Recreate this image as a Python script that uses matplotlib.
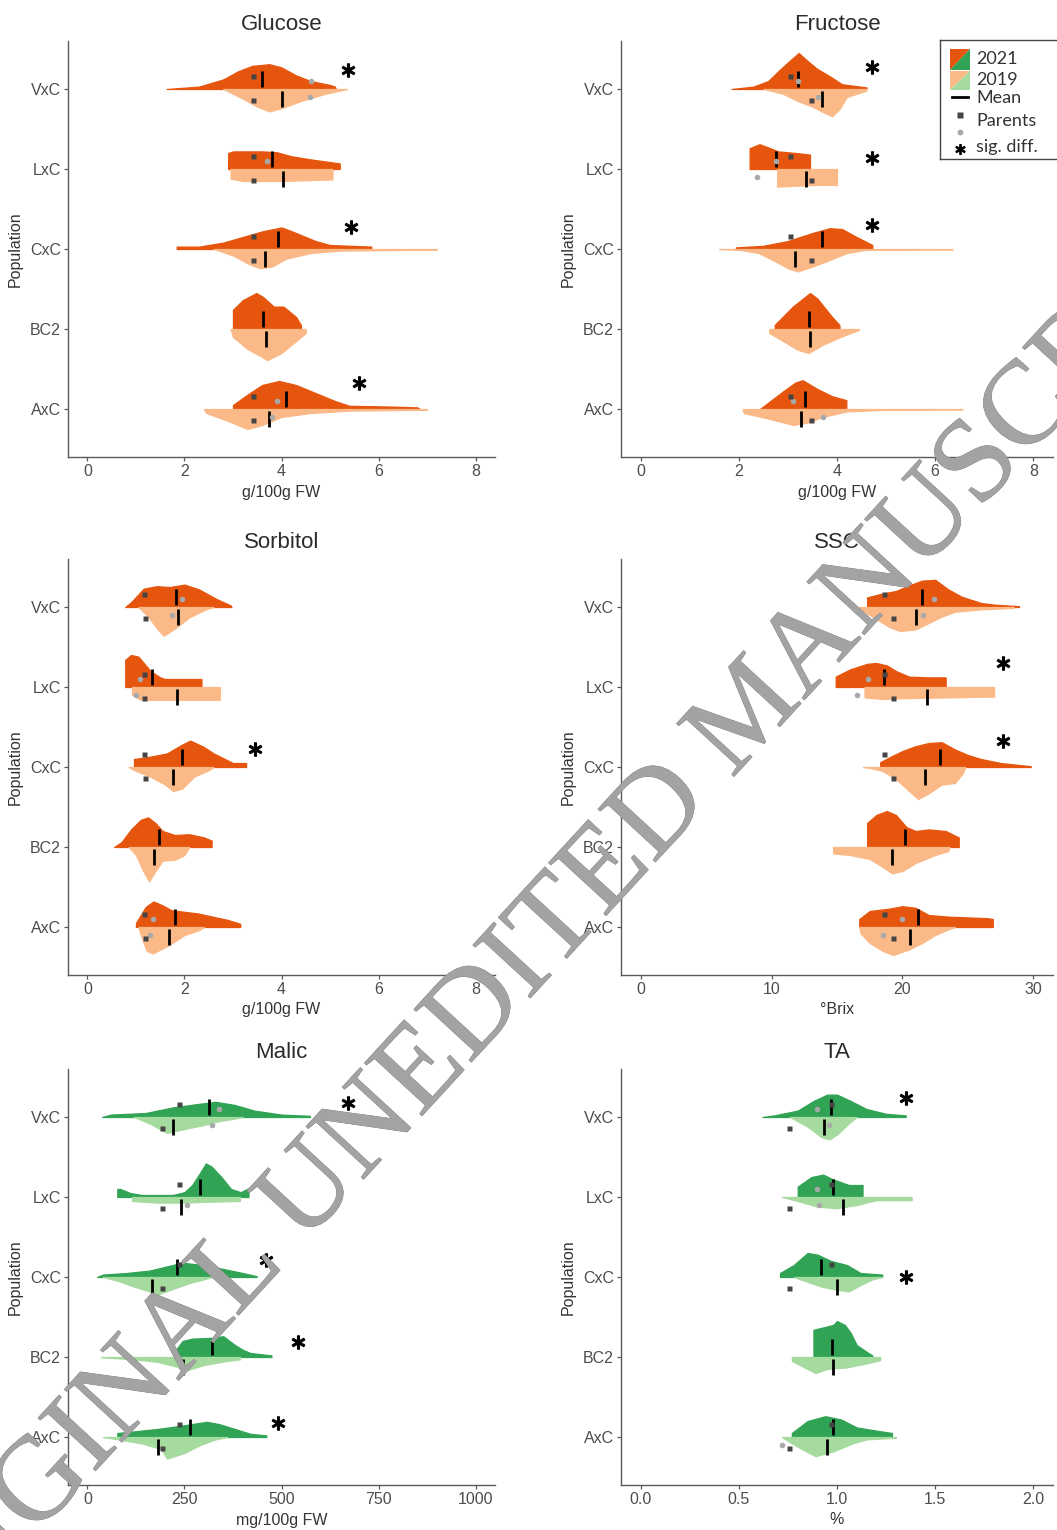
import matplotlib
matplotlib.use("Agg")
import matplotlib.pyplot as plt
from matplotlib import patheffects
from matplotlib.patches import Polygon

# ---------------------------------------------------------------- data
POPS = ["VxC", "LxC", "CxC", "BC2", "AxC"]

# half-violin outlines: (value, half-width in category units)
GLU_2021 = {
    "VxC": [(1.63, 0), (2.3, 0.03), (2.8, 0.12), (3.1, 0.22), (3.4, 0.29), (3.75, 0.31), (4.0, 0.27),
            (4.3, 0.17), (4.6, 0.1), (5.0, 0.05), (5.1, 0.03), (5.12, 0)],
    "LxC": [(2.9, 0), (2.9, 0.2), (3.0, 0.22), (3.6, 0.22), (3.9, 0.21), (4.2, 0.16), (4.6, 0.12),
            (5.2, 0.07), (5.2, 0)],
    "CxC": [(1.84, 0), (1.84, 0.03), (2.3, 0.03), (2.8, 0.08), (3.2, 0.15), (3.6, 0.22), (4.0, 0.27),
            (4.3, 0.2), (4.7, 0.1), (5.0, 0.05), (5.85, 0.03), (5.85, 0)],
    "BC2": [(3.0, 0), (3.0, 0.24), (3.2, 0.36), (3.48, 0.45), (3.62, 0.4), (3.84, 0.28), (4.04, 0.28),
            (4.3, 0.15), (4.4, 0.05), (4.4, 0)],
    "AxC": [(3.0, 0), (3.0, 0.05), (3.3, 0.18), (3.6, 0.3), (3.95, 0.35), (4.3, 0.3), (4.7, 0.2),
            (5.1, 0.1), (5.4, 0.04), (6.3, 0.03), (6.8, 0.02), (6.85, 0)],
}
GLU_2019 = {
    "VxC": [(2.8, 0), (3.2, 0.12), (3.5, 0.22), (3.75, 0.28), (4.0, 0.24), (4.4, 0.15), (4.9, 0.06), (5.35, 0)],
    "LxC": [(2.95, 0), (2.95, 0.12), (3.2, 0.15), (4.0, 0.15), (5.05, 0.13), (5.05, 0)],
    "CxC": [(2.6, 0), (3.0, 0.08), (3.3, 0.18), (3.55, 0.24), (3.8, 0.22), (4.1, 0.12), (4.6, 0.05),
            (5.2, 0.02), (7.2, 0.008), (7.2, 0)],
    "BC2": [(2.95, 0), (3.0, 0.1), (3.3, 0.25), (3.6, 0.35), (3.7, 0.39), (4.0, 0.3), (4.3, 0.15),
            (4.5, 0.05), (4.5, 0)],
    "AxC": [(2.4, 0), (2.45, 0.05), (2.9, 0.15), (3.3, 0.25), (3.6, 0.2), (4.0, 0.1), (4.6, 0.05),
            (5.4, 0.02), (7.0, 0.01), (7.0, 0)],
}
GLU_MEAN_2021 = [3.60, 3.81, 3.92, 3.62, 4.10]
GLU_MEAN_2019 = [4.02, 4.03, 3.67, 3.69, 3.74]
GLU_PAR_2021 = [(3.42, 4.60), (3.42, 3.70), (3.42, None), (None, None), (3.42, 3.90)]
GLU_PAR_2019 = [(3.41, 4.58), (3.41, None), (3.41, None), (None, None), (3.41, 3.80)]
GLU_SIG = [(5.37, 0.24), None, (5.44, 0.28), None, (5.60, 0.33)]

FRU_2021 = {
    "VxC": [(1.85, 0), (2.3, 0.03), (2.6, 0.1), (2.85, 0.25), (3.05, 0.36), (3.22, 0.45), (3.4, 0.35),
            (3.6, 0.25), (3.85, 0.16), (4.1, 0.06), (4.6, 0.02), (4.6, 0)],
    "LxC": [(2.22, 0), (2.22, 0.26), (2.42, 0.31), (2.6, 0.27), (2.8, 0.22), (3.17, 0.2), (3.45, 0.18), (3.45, 0)],
    "CxC": [(1.94, 0), (1.94, 0.02), (2.5, 0.04), (3.0, 0.1), (3.5, 0.2), (3.85, 0.26), (4.1, 0.25),
            (4.4, 0.15), (4.72, 0.05), (4.72, 0)],
    "BC2": [(2.73, 0), (2.73, 0.05), (3.1, 0.28), (3.45, 0.45), (3.6, 0.38), (3.9, 0.15), (4.05, 0.05), (4.05, 0)],
    "AxC": [(2.43, 0), (2.6, 0.08), (2.9, 0.22), (3.15, 0.33), (3.3, 0.36), (3.6, 0.25), (3.9, 0.16),
            (4.19, 0.11), (4.19, 0)],
}
FRU_2019 = {
    "VxC": [(2.5, 0), (2.9, 0.06), (3.2, 0.15), (3.5, 0.22), (3.75, 0.3), (3.9, 0.34), (4.05, 0.25),
            (4.2, 0.1), (4.6, 0.02), (4.6, 0)],
    "LxC": [(2.78, 0), (2.78, 0.22), (3.5, 0.2), (4.0, 0.2), (4.0, 0)],
    "CxC": [(1.6, 0), (2.0, 0.01), (2.4, 0.05), (2.7, 0.14), (3.0, 0.24), (3.2, 0.28), (3.5, 0.22),
            (3.8, 0.15), (4.2, 0.05), (4.6, 0.01), (6.35, 0.006), (6.35, 0)],
    "BC2": [(2.62, 0), (2.62, 0.05), (2.9, 0.15), (3.2, 0.26), (3.42, 0.3), (3.7, 0.2), (4.07, 0.1),
            (4.45, 0.01), (4.45, 0)],
    "AxC": [(2.08, 0), (2.1, 0.05), (2.6, 0.12), (3.11, 0.2), (3.4, 0.17), (3.7, 0.1), (4.2, 0.03),
            (5.0, 0.01), (6.55, 0.006), (6.55, 0)],
}
FRU_MEAN_2021 = [3.21, 2.75, 3.69, 3.43, 3.35]
FRU_MEAN_2019 = [3.69, 3.36, 3.14, 3.45, 3.26]
FRU_PAR_2021 = [(3.05, 3.21), (3.05, 2.76), (3.05, None), (None, None), (3.05, 3.11)]
FRU_PAR_2019 = [(3.48, 3.62), (3.48, 2.37), (3.48, None), (None, None), (3.48, 3.72)]
FRU_SIG = [(4.72, 0.28), (4.72, 0.14), (4.72, 0.30), None, None]

SOR_2021 = {
    "VxC": [(0.78, 0), (0.9, 0.06), (1.16, 0.23), (1.43, 0.26), (1.7, 0.25), (2.0, 0.28), (2.3, 0.22),
            (2.66, 0.1), (2.95, 0.02), (2.97, 0)],
    "LxC": [(0.78, 0), (0.78, 0.34), (0.9, 0.4), (1.05, 0.38), (1.3, 0.2), (1.5, 0.12), (1.6, 0.1),
            (2.35, 0.1), (2.35, 0)],
    "CxC": [(0.96, 0), (0.96, 0.1), (1.3, 0.13), (1.64, 0.17), (1.95, 0.28), (2.12, 0.33), (2.4, 0.25),
            (2.6, 0.17), (3.0, 0.05), (3.27, 0.05), (3.27, 0)],
    "BC2": [(0.55, 0), (0.7, 0.06), (0.9, 0.22), (1.1, 0.34), (1.25, 0.37), (1.4, 0.3), (1.55, 0.2),
            (1.8, 0.15), (2.1, 0.16), (2.4, 0.12), (2.56, 0.08), (2.56, 0)],
    "AxC": [(1.0, 0), (1.0, 0.05), (1.2, 0.25), (1.36, 0.32), (1.55, 0.27), (1.73, 0.21), (2.27, 0.17),
            (2.88, 0.09), (3.15, 0.04), (3.15, 0)],
}
SOR_2019 = {
    "VxC": [(1.05, 0), (1.25, 0.12), (1.45, 0.28), (1.57, 0.36), (1.8, 0.27), (2.1, 0.13), (2.4, 0.04), (2.6, 0)],
    "LxC": [(0.92, 0), (0.92, 0.1), (1.1, 0.16), (2.73, 0.16), (2.73, 0)],
    "CxC": [(0.85, 0), (1.0, 0.05), (1.3, 0.12), (1.6, 0.22), (1.77, 0.3), (1.95, 0.27), (2.2, 0.12),
            (2.5, 0.04), (2.6, 0)],
    "BC2": [(0.85, 0), (1.0, 0.1), (1.15, 0.3), (1.27, 0.43), (1.4, 0.3), (1.55, 0.17), (1.8, 0.16),
            (2.0, 0.1), (2.1, 0)],
    "AxC": [(1.05, 0), (1.1, 0.1), (1.22, 0.3), (1.35, 0.33), (1.7, 0.22), (2.0, 0.1), (2.3, 0.04), (2.4, 0)],
}
SOR_MEAN_2021 = [1.82, 1.33, 1.94, 1.47, 1.81]
SOR_MEAN_2019 = [1.86, 1.84, 1.76, 1.38, 1.69]
SOR_PAR_2021 = [(1.16, 1.94), (1.16, 1.09), (1.16, None), (None, None), (1.16, 1.36)]
SOR_PAR_2019 = [(1.19, 1.74), (1.17, 1.00), (1.19, None), (None, None), (1.19, 1.30)]
SOR_SIG = [None, None, (3.45, 0.23), None, None]

SSC_2021 = {
    "VxC": [(17.3, 0), (17.3, 0.12), (18.5, 0.17), (19.5, 0.2), (20.5, 0.27), (21.5, 0.33), (22.5, 0.34),
            (23.5, 0.22), (24.5, 0.13), (26.0, 0.05), (27.0, 0.03), (28.9, 0.01), (28.9, 0)],
    "LxC": [(14.9, 0), (14.9, 0.13), (16.0, 0.22), (17.3, 0.29), (18.0, 0.3), (18.8, 0.27), (19.5, 0.2),
            (20.5, 0.13), (22.0, 0.12), (23.3, 0.12), (23.3, 0)],
    "CxC": [(18.3, 0), (18.3, 0.06), (19.0, 0.12), (20.0, 0.2), (21.0, 0.26), (22.0, 0.3), (23.0, 0.31),
            (24.0, 0.22), (25.0, 0.15), (26.0, 0.1), (27.5, 0.05), (29.8, 0.01), (29.8, 0)],
    "BC2": [(17.3, 0), (17.3, 0.3), (18.0, 0.4), (18.8, 0.45), (19.5, 0.4), (20.3, 0.25), (21.0, 0.2),
            (22.0, 0.22), (23.3, 0.2), (24.3, 0.12), (24.3, 0)],
    "AxC": [(16.7, 0), (16.7, 0.1), (17.5, 0.2), (19.0, 0.23), (20.0, 0.26), (21.0, 0.24), (22.0, 0.15),
            (23.5, 0.13), (26.5, 0.11), (26.9, 0.1), (26.9, 0)],
}
SSC_2019 = {
    "VxC": [(16.2, 0), (17.0, 0.05), (18.0, 0.15), (19.0, 0.25), (19.8, 0.3), (21.0, 0.28), (22.0, 0.2),
            (23.0, 0.12), (24.0, 0.06), (26.0, 0.03), (28.5, 0.01), (28.5, 0)],
    "LxC": [(17.1, 0), (17.1, 0.13), (18.5, 0.15), (20.0, 0.14), (27.0, 0.12), (27.0, 0)],
    "CxC": [(17.0, 0), (17.5, 0.01), (18.5, 0.05), (19.5, 0.15), (20.5, 0.3), (21.2, 0.4), (22.0, 0.33),
            (23.0, 0.22), (24.0, 0.2), (24.6, 0.08), (24.8, 0)],
    "BC2": [(14.7, 0), (14.7, 0.08), (16.0, 0.1), (17.5, 0.15), (18.5, 0.25), (19.2, 0.33), (20.0, 0.3),
            (21.0, 0.2), (22.5, 0.1), (23.5, 0.05), (23.6, 0)],
    "AxC": [(16.7, 0), (16.8, 0.08), (17.5, 0.2), (18.5, 0.3), (19.3, 0.35), (20.5, 0.28), (21.5, 0.2),
            (22.5, 0.1), (23.5, 0.03), (24.0, 0)],
}
SSC_MEAN_2021 = [21.5, 18.6, 22.9, 20.2, 21.2]
SSC_MEAN_2019 = [21.0, 21.9, 21.7, 19.2, 20.6]
SSC_PAR_2021 = [(18.6, 22.4), (18.6, 17.4), (18.6, None), (None, None), (18.6, 20.0)]
SSC_PAR_2019 = [(19.3, 21.6), (19.3, 16.5), (19.3, None), (None, None), (19.3, 18.5)]
SSC_SIG = [None, (27.7, 0.30), (27.7, 0.33), None, None]

MAL_2021 = {
    "VxC": [(38, 0), (60, 0.03), (150, 0.05), (220, 0.12), (280, 0.16), (330, 0.19), (380, 0.15),
            (430, 0.08), (500, 0.03), (573, 0.015), (573, 0)],
    "LxC": [(77, 0), (77, 0.1), (85, 0.1), (110, 0.05), (140, 0.025), (220, 0.025), (250, 0.06),
            (270, 0.15), (290, 0.3), (305, 0.42), (320, 0.38), (345, 0.25), (370, 0.1), (395, 0.06),
            (415, 0.11), (415, 0)],
    "CxC": [(25, 0), (40, 0.03), (100, 0.05), (160, 0.08), (220, 0.15), (240, 0.18), (300, 0.15),
            (350, 0.1), (400, 0.05), (436, 0.01), (436, 0)],
    "BC2": [(231, 0), (231, 0.11), (245, 0.2), (270, 0.23), (320, 0.24), (350, 0.26), (380, 0.15),
            (400, 0.09), (420, 0.05), (474, 0.02), (474, 0)],
    "AxC": [(77, 0), (77, 0.05), (120, 0.07), (180, 0.1), (240, 0.14), (308, 0.19), (340, 0.16),
            (380, 0.1), (420, 0.04), (461, 0.02), (461, 0)],
}
MAL_2019 = {
    "VxC": [(120, 0), (160, 0.08), (205, 0.2), (250, 0.15), (300, 0.1), (340, 0.05), (380, 0.02), (400, 0)],
    "LxC": [(115, 0), (115, 0.05), (180, 0.07), (250, 0.07), (300, 0.06), (393, 0.05), (393, 0)],
    "CxC": [(40, 0), (80, 0.05), (120, 0.12), (160, 0.18), (180, 0.22), (220, 0.15), (260, 0.08),
            (300, 0.03), (320, 0)],
    "BC2": [(34, 0), (60, 0.01), (120, 0.03), (180, 0.06), (230, 0.12), (247, 0.18), (300, 0.1),
            (360, 0.05), (393, 0.03), (393, 0)],
    "AxC": [(40, 0), (80, 0.03), (140, 0.08), (190, 0.15), (205, 0.27), (250, 0.2), (290, 0.1),
            (330, 0.03), (360, 0)],
}
MAL_MEAN_2021 = [312, 290, 231, 322, 265]
MAL_MEAN_2019 = [220, 242, 167, 247, 181]
MAL_PAR_2021 = [(235, 338), (235, None), (235, None), (None, None), (235, None)]
MAL_PAR_2019 = [(192, 320), (192, 256), (192, None), (None, None), (192, None)]
MAL_SIG = [(671, 0.17), None, (460, 0.21), (543, 0.19), (490, 0.17)]

TA_2021 = {
    "VxC": [(0.62, 0), (0.68, 0.02), (0.8, 0.08), (0.88, 0.2), (0.95, 0.28), (1.0, 0.28), (1.07, 0.2),
            (1.15, 0.1), (1.25, 0.04), (1.35, 0.02), (1.35, 0)],
    "LxC": [(0.8, 0), (0.8, 0.13), (0.87, 0.25), (0.93, 0.28), (0.98, 0.22), (1.06, 0.15), (1.13, 0.15), (1.13, 0)],
    "CxC": [(0.71, 0), (0.71, 0.05), (0.78, 0.15), (0.85, 0.3), (0.9, 0.28), (0.97, 0.2), (1.05, 0.15),
            (1.12, 0.05), (1.23, 0.03), (1.23, 0)],
    "BC2": [(0.88, 0), (0.88, 0.34), (0.93, 0.37), (0.98, 0.4), (1.0, 0.45), (1.04, 0.4), (1.07, 0.3),
            (1.1, 0.15), (1.16, 0.05), (1.18, 0.02), (1.18, 0)],
    "AxC": [(0.77, 0), (0.77, 0.05), (0.85, 0.2), (0.94, 0.26), (1.02, 0.22), (1.1, 0.12), (1.2, 0.08),
            (1.28, 0.05), (1.28, 0)],
}
TA_2019 = {
    "VxC": [(0.76, 0), (0.85, 0.12), (0.92, 0.25), (0.96, 0.28), (1.0, 0.22), (1.06, 0.08), (1.1, 0)],
    "LxC": [(0.72, 0), (0.8, 0.05), (0.9, 0.12), (1.0, 0.14), (1.1, 0.1), (1.2, 0.04), (1.38, 0.04), (1.38, 0)],
    "CxC": [(0.78, 0), (0.85, 0.06), (0.92, 0.12), (1.0, 0.16), (1.06, 0.18), (1.12, 0.1), (1.18, 0.03), (1.23, 0)],
    "BC2": [(0.77, 0), (0.77, 0.05), (0.89, 0.2), (0.95, 0.15), (1.05, 0.13), (1.15, 0.08), (1.22, 0.04), (1.22, 0)],
    "AxC": [(0.72, 0), (0.75, 0.05), (0.82, 0.15), (0.89, 0.24), (0.98, 0.18), (1.08, 0.08), (1.15, 0.03),
            (1.3, 0.01), (1.3, 0)],
}
TA_MEAN_2021 = [0.97, 0.98, 0.92, 0.975, 0.98]
TA_MEAN_2019 = [0.936, 1.03, 1.00, 0.98, 0.95]
TA_PAR_2021 = [(0.97, 0.90), (0.97, 0.90), (0.97, None), (None, None), (0.97, None)]
TA_PAR_2019 = [(0.757, 0.96), (0.757, 0.91), (0.757, None), (None, None), (0.757, 0.72)]
TA_SIG = [(1.35, 0.24), None, (1.35, 0.0), None, None]

ORANGE = ("#E6550D", "#FBB987")
GREEN = ("#31A354", "#A6DB9F")

PANELS = [
    dict(title="Glucose", xlabel="g/100g FW", xlim=(-0.4, 8.4), xticks=[0, 2, 4, 6, 8], col=ORANGE,
         v21=GLU_2021, v19=GLU_2019, m21=GLU_MEAN_2021, m19=GLU_MEAN_2019,
         p21=GLU_PAR_2021, p19=GLU_PAR_2019, sig=GLU_SIG),
    dict(title="Fructose", xlabel="g/100g FW", xlim=(-0.4, 8.4), xticks=[0, 2, 4, 6, 8], col=ORANGE,
         v21=FRU_2021, v19=FRU_2019, m21=FRU_MEAN_2021, m19=FRU_MEAN_2019,
         p21=FRU_PAR_2021, p19=FRU_PAR_2019, sig=FRU_SIG),
    dict(title="Sorbitol", xlabel="g/100g FW", xlim=(-0.4, 8.4), xticks=[0, 2, 4, 6, 8], col=ORANGE,
         v21=SOR_2021, v19=SOR_2019, m21=SOR_MEAN_2021, m19=SOR_MEAN_2019,
         p21=SOR_PAR_2021, p19=SOR_PAR_2019, sig=SOR_SIG),
    dict(title="SSC", xlabel="°Brix", xlim=(-1.5, 31.5), xticks=[0, 10, 20, 30], col=ORANGE,
         v21=SSC_2021, v19=SSC_2019, m21=SSC_MEAN_2021, m19=SSC_MEAN_2019,
         p21=SSC_PAR_2021, p19=SSC_PAR_2019, sig=SSC_SIG),
    dict(title="Malic", xlabel="mg/100g FW", xlim=(-50, 1050), xticks=[0, 250, 500, 750, 1000], col=GREEN,
         v21=MAL_2021, v19=MAL_2019, m21=MAL_MEAN_2021, m19=MAL_MEAN_2019,
         p21=MAL_PAR_2021, p19=MAL_PAR_2019, sig=MAL_SIG),
    dict(title="TA", xlabel="%", xlim=(-0.1, 2.1), xticks=[0.0, 0.5, 1.0, 1.5, 2.0], col=GREEN,
         v21=TA_2021, v19=TA_2019, m21=TA_MEAN_2021, m19=TA_MEAN_2019,
         p21=TA_PAR_2021, p19=TA_PAR_2019, sig=TA_SIG),
]

# ---------------------------------------------------------------- plot
W, H = 1057, 1530
plt.rcParams["font.family"] = ["Liberation Sans", "DejaVu Sans"]
fig = plt.figure(figsize=(W / 100, H / 100), dpi=100)

COLS = [(68, 495), (621, 1053)]
ROWS = [(41, 457), (559, 975), (1069, 1485)]
AXC = "#5a5a5a"


def half(ax, y0, prof, color, sign):
    xs = [p[0] for p in prof]
    ys = [y0 + sign * p[1] for p in prof]
    ax.fill_between(xs, y0, ys, color=color, lw=0.9, zorder=2)


for k, pn in enumerate(PANELS):
    x0, x1 = COLS[k % 2]
    t, b = ROWS[k // 2]
    ax = fig.add_axes([x0 / W, 1 - b / H, (x1 - x0) / W, (b - t) / H])
    dark, light = pn["col"]
    for i, pop in enumerate(POPS):
        y0 = 5 - i
        half(ax, y0, pn["v21"][pop], dark, 1)
        half(ax, y0, pn["v19"][pop], light, -1)
        ax.vlines(pn["m21"][i], y0 + 0.02, y0 + 0.22, color="black", lw=2.0, zorder=4)
        ax.vlines(pn["m19"][i], y0 - 0.02, y0 - 0.22, color="black", lw=2.0, zorder=4)
        for (pd, pl), off_d, off_l in ((pn["p21"][i], 0.16, 0.10), (pn["p19"][i], -0.14, -0.10)):
            if pl is not None:
                ax.plot(pl, y0 + off_l, "o", ms=4, color="#a9a9a9", mec="none", zorder=5)
            if pd is not None:
                ax.plot(pd, y0 + off_d, "s", ms=3.6, color="#454545", mec="none", zorder=5)
        if pn["sig"][i] is not None:
            sx, sy = pn["sig"][i]
            ax.plot(sx, y0 + sy, marker=r"$\ast$", ms=9.5, color="black", zorder=6)

    ax.set_xlim(*pn["xlim"])
    ax.set_ylim(0.4, 5.6)
    ax.set_xticks(pn["xticks"])
    if k == 5:
        ax.set_xticklabels([f"{v:.1f}" for v in pn["xticks"]])
    ax.set_yticks([5, 4, 3, 2, 1])
    ax.set_yticklabels(POPS)
    for s in ("top", "right"):
        ax.spines[s].set_visible(False)
    for s in ("left", "bottom"):
        ax.spines[s].set_color(AXC)
        ax.spines[s].set_linewidth(1.0)
    ax.tick_params(colors=AXC, labelcolor="#4d4d4d", labelsize=11.5, length=3, width=0.9, pad=2)
    ax.set_title(pn["title"], fontsize=16, color="#2b2b2b", pad=8)
    ax.set_xlabel(pn["xlabel"], fontsize=11.5, color="#333333", labelpad=4)
    ax.set_ylabel("Population", fontsize=11.5, color="#333333", labelpad=5)

# ---------------------------------------------------------------- legend
lx0, ly0, lx1, ly1 = 940, 40, 1062, 159
lg = fig.add_axes([lx0 / W, 1 - ly1 / H, (lx1 - lx0) / W, (ly1 - ly0) / H])
lg.set_xlim(0, lx1 - lx0)
lg.set_ylim(ly1 - ly0, 0)
lg.set_xticks([])
lg.set_yticks([])
for s in lg.spines.values():
    s.set_color("#444444")
    s.set_linewidth(1.0)
lg.add_patch(Polygon([(10, 9), (30, 9), (10, 30)], color=ORANGE[0], lw=0))
lg.add_patch(Polygon([(30, 9), (30, 30), (10, 30)], color=GREEN[0], lw=0))
lg.add_patch(Polygon([(10, 31), (30, 31), (10, 50)], color=ORANGE[1], lw=0))
lg.add_patch(Polygon([(30, 31), (30, 50), (10, 50)], color=GREEN[1], lw=0))
lg.plot([12, 28], [57, 57], color="black", lw=2)
lg.plot(20, 75, "s", ms=4, color="#454545", mec="none")
lg.plot(20, 92, "o", ms=4.2, color="#a9a9a9", mec="none")
lg.plot(20, 109, marker=r"$\ast$", ms=7, color="black")
for txt, yy in (("2021", 19), ("2019", 40), ("Mean", 58), ("Parents", 81), ("sig. diff.", 107)):
    lg.text(36, yy, txt, fontsize=13, family=["Lato", "DejaVu Sans"], color="#333333",
            va="center", ha="left")

# ---------------------------------------------------------------- watermark
fig.text(-105 / W, -159 / H, "ORIGINAL UNEDITED MANUSCRIPT", fontsize=86,
         family=["Liberation Serif", "DejaVu Serif"], color="#a3a3a3", rotation=47.4,
         rotation_mode="anchor", ha="left", va="baseline", zorder=10,
         path_effects=[patheffects.withStroke(linewidth=0.5, foreground="#7a7a7a")])

fig.savefig("out.png", dpi=100)
